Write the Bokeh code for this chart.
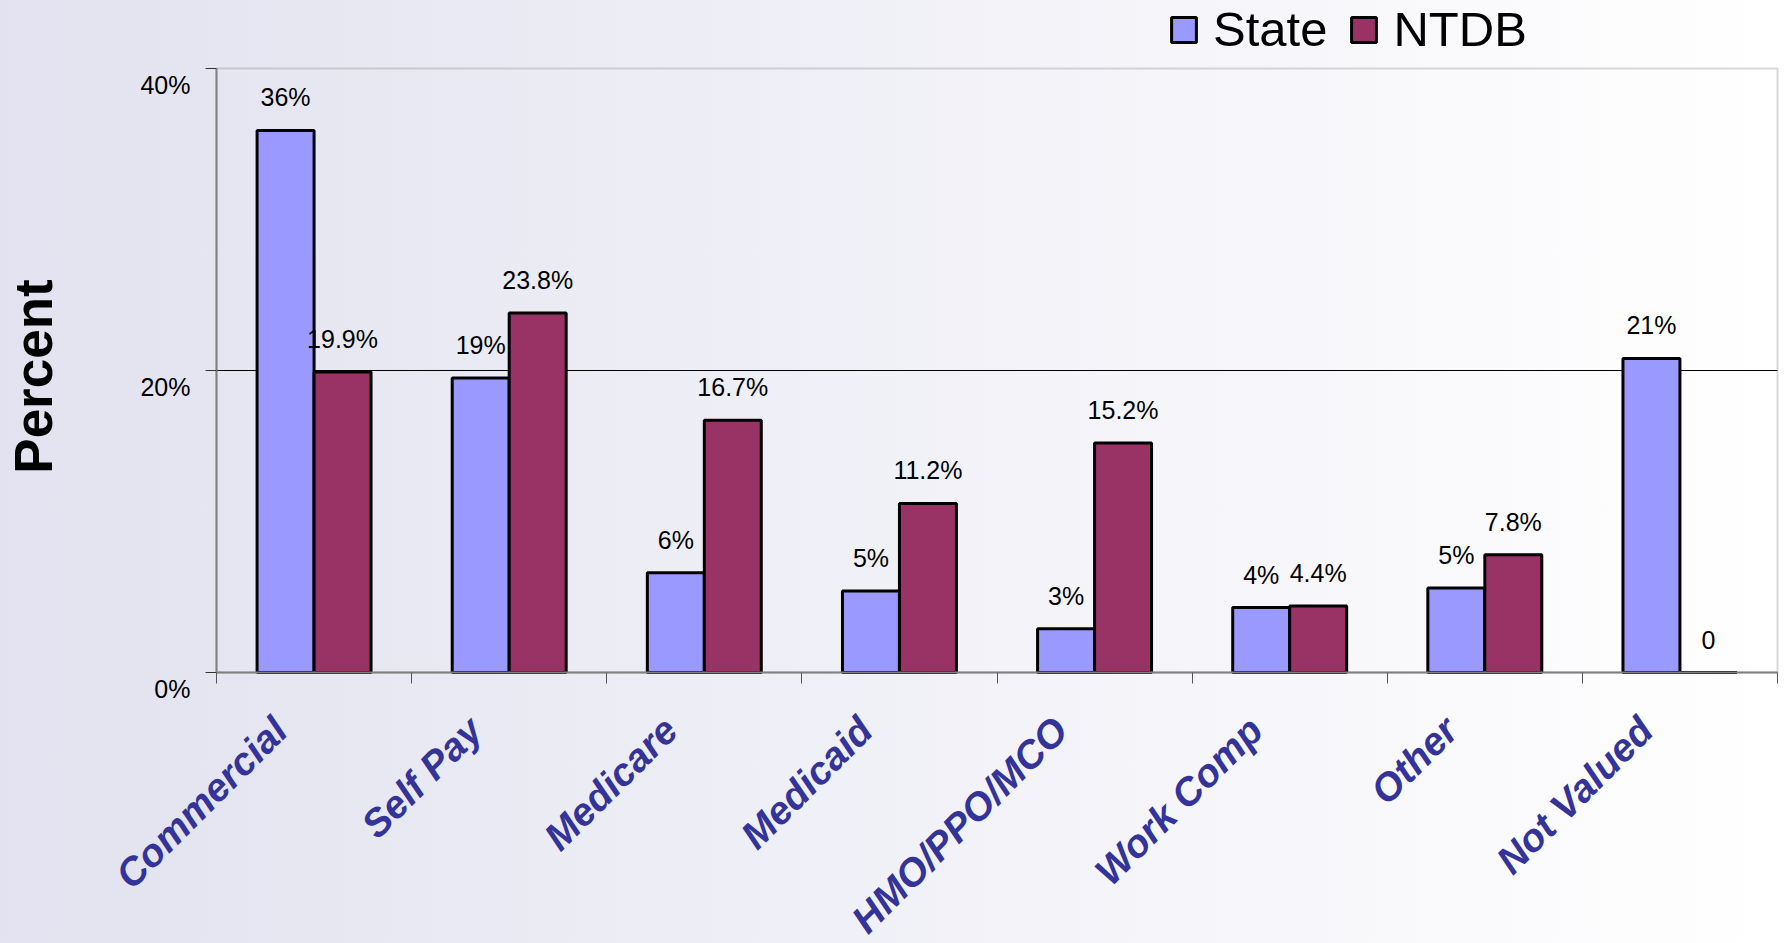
import numpy as np
from bokeh.plotting import figure
from bokeh.models import (Range1d, FixedTicker, ColumnDataSource, Legend, LegendItem,
                          BoxAnnotation)
from bokeh.transform import dodge
from bokeh.core.properties import value
from bokeh.embed import file_html
from bokeh.resources import INLINE

categories = ["Commercial", "Self Pay", "Medicare", "Medicaid", "HMO/PPO/MCO",
              "Work Comp", "Other", "Not Valued"]
state_values = [35.9, 19.5, 6.6, 5.4, 2.9, 4.3, 5.6, 20.8]
ntdb_values = [19.9, 23.8, 16.7, 11.2, 15.2, 4.4, 7.8, 0.0]
state_labels = ["36%", "19%", "6%", "5%", "3%", "4%", "5%", "21%"]
ntdb_labels = ["19.9%", "23.8%", "16.7%", "11.2%", "15.2%", "4.4%", "7.8%", "0"]
y_ticks = [0, 20, 40]
y_tick_labels = ["0%", "20%", "40%"]
y_title = "Percent"

FONT = "Liberation Sans"
STATE_COLOR = "#9999FF"
NTDB_COLOR = "#993366"
CAT_COLOR = "#333399"
BORDER = "#808080"

# canvas geometry (pixels): the plotting box sits inside a frame that fills the canvas
W, H = 1785, 943
BOX_L, BOX_R, BOX_T, BOX_B = 216, 1777, 68, 672

n = len(categories)
Y0, Y1 = y_ticks[0], y_ticks[-1]
ppu = (BOX_R - BOX_L) / n
ppy = (BOX_B - BOX_T) / (Y1 - Y0)

centers = np.arange(n) + 0.5
source = ColumnDataSource(dict(x=centers, zero=[Y0] * n, cat=categories,
                               state=state_values, ntdb=ntdb_values,
                               state_lab=state_labels, ntdb_lab=ntdb_labels))

p = figure(width=W, height=H, output_backend="svg", toolbar_location=None,
           x_range=Range1d(-BOX_L / ppu, n + (W - BOX_R) / ppu),
           y_range=Range1d(Y0 - (H - BOX_B) / ppy, Y1 + BOX_T / ppy),
           x_axis_location="above", y_axis_location="right",
           min_border=0, min_border_left=0, min_border_right=0,
           min_border_top=0, min_border_bottom=0)
p.background_fill_color = None
p.border_fill_color = None
p.outline_line_color = None
p.styles = {"background": "linear-gradient(to right, #e2e2f0 0%, #f2f2f8 55%, #ffffff 100%)"}
p.xgrid.visible = False
p.ygrid.visible = False

# plot box border
p.add_layout(BoxAnnotation(left=0, right=n, bottom=Y0, top=Y1, fill_alpha=0,
                           line_color=BORDER, line_width=2, level="underlay"))
# gridline at the middle tick
grid_vals = y_ticks[1:-1]
p.segment(x0=[0] * len(grid_vals), x1=[n] * len(grid_vals), y0=grid_vals, y1=grid_vals,
          line_color="black", line_width=1)

bw = 0.292
r_state = p.vbar(x=dodge("x", -bw / 2, range=p.x_range), top="state", width=bw,
                 source=source, fill_color=STATE_COLOR, line_color="black", line_width=3)
r_ntdb = p.vbar(x=dodge("x", bw / 2, range=p.x_range), top="ntdb", width=bw,
                source=source, fill_color=NTDB_COLOR, line_color="black", line_width=3)

for key, lab, off in (("state", "state_lab", -bw / 2), ("ntdb", "ntdb_lab", bw / 2)):
    p.text(x=dodge("x", off, range=p.x_range), y=key, text=lab, source=source,
           text_align="center", text_baseline="middle", y_offset=-33,
           text_font=value(FONT), text_font_size="25px", text_color="black")

# x axis at y = 0, ticks at category boundaries pointing down
boundaries = list(range(n + 1))
xa = p.xaxis[0]
xa.fixed_location = Y0
xa.bounds = (0, n)
xa.ticker = FixedTicker(ticks=boundaries)
xa.major_label_overrides = {b: "" for b in boundaries}
xa.major_label_text_font_size = "0px"
xa.major_label_standoff = 0
xa.major_tick_out = 0
xa.major_tick_in = 11
xa.minor_tick_line_color = None
xa.major_tick_line_color = "#555555"
xa.axis_line_color = BORDER
xa.axis_line_width = 2

# y axis at x = 0, ticks pointing left
ya = p.yaxis[0]
ya.fixed_location = 0
ya.bounds = (Y0, Y1)
ya.ticker = FixedTicker(ticks=y_ticks)
ya.major_label_overrides = {t: "" for t in y_ticks}
ya.major_label_text_font_size = "0px"
ya.major_label_standoff = 0
ya.minor_tick_line_color = None
ya.major_tick_out = 0
ya.major_tick_in = 11
ya.major_tick_line_color = "#333333"
ya.axis_line_color = BORDER
ya.axis_line_width = 2

# y tick labels (sit a little below their ticks, as in the original)
ysrc = ColumnDataSource(dict(y=y_ticks, x=[0] * len(y_ticks), lab=y_tick_labels))
p.text(x="x", y="y", text="lab", source=ysrc, x_offset=-26, y_offset=16,
       text_align="right", text_baseline="middle",
       text_font=value(FONT), text_font_size="25px", text_color="black")

# y title
tsrc = ColumnDataSource(dict(x=[0], y=[(Y0 + Y1) / 2], t=[y_title]))
p.text(x="x", y="y", text="t", source=tsrc, x_offset=-183, y_offset=6, angle=np.pi / 2,
       text_align="center", text_baseline="middle",
       text_font=value(FONT), text_font_size="53px", text_font_style="bold",
       text_color="black")

# rotated category labels
p.text(x="x", y="zero", text="cat", source=source,
       angle=np.pi / 4, text_align="right", text_baseline="top",
       x_offset=-49, y_offset=36,
       text_font=value(FONT), text_font_size="39px",
       text_font_style="bold italic", text_color=CAT_COLOR)

legend = Legend(items=[LegendItem(label="State", renderers=[r_state]),
                       LegendItem(label="NTDB", renderers=[r_ntdb])],
                orientation="horizontal", location=(1168, H - 57),
                glyph_width=31, glyph_height=31, label_standoff=14, spacing=21,
                label_text_font=FONT, label_text_font_size="49px",
                label_text_color="black",
                background_fill_alpha=0, border_line_color=None,
                padding=0, margin=0)
p.add_layout(legend, "center")

open("out.html", "w").write(file_html(p, INLINE))
